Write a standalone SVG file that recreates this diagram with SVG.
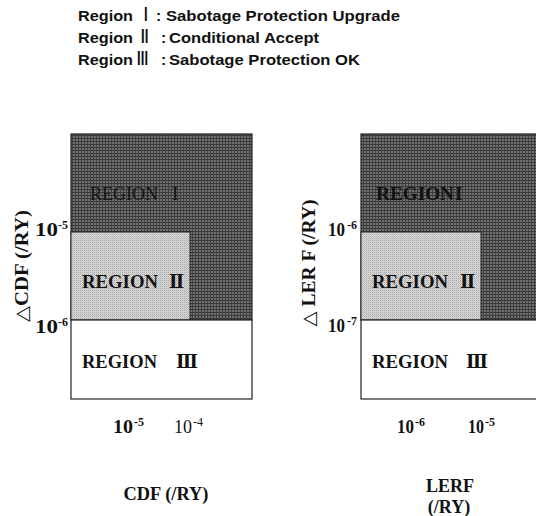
<svg xmlns="http://www.w3.org/2000/svg" width="536" height="516" viewBox="0 0 536 516">
<style>
.hd{font-family:"Liberation Sans",Arial,"Noto Sans CJK JP",sans-serif;font-weight:bold;font-size:15.5px;fill:#111}
.hn{font-family:"DejaVu Sans","Noto Sans CJK JP",sans-serif;font-weight:normal;font-size:19px}
.rg{font-family:"Liberation Serif","Times New Roman","Noto Sans CJK JP",serif;font-weight:bold;font-size:19px;fill:#111}
.rn{font-family:"DejaVu Serif","Liberation Serif","Noto Sans CJK JP",serif;font-weight:bold;font-size:18px;fill:#111}
.tk{font-family:"Liberation Serif","Times New Roman",serif;font-weight:bold;font-size:18px;fill:#111}
.sp{font-family:"Liberation Serif","Times New Roman",serif;font-weight:bold;font-size:12px;fill:#111}
.ax{font-family:"Liberation Serif","Times New Roman","DejaVu Sans",serif;font-weight:bold;font-size:18px;fill:#111}
.dark{fill:url(#pd);stroke:#222;stroke-width:1.2}
.light{fill:url(#pl);stroke:#222;stroke-width:1}
.white{fill:#fff;stroke:#222;stroke-width:1.2}
</style>
<defs>
<pattern id="pd" width="3" height="3" patternUnits="userSpaceOnUse">
<rect width="3" height="3" fill="#707070"/>
<rect width="3" height="1" fill="#363636"/>
<rect width="1" height="3" fill="#404040"/>
</pattern>
<pattern id="pl" width="2" height="2" patternUnits="userSpaceOnUse">
<rect width="2" height="2" fill="#dcdcdc"/>
<rect width="1" height="1" fill="#a8a8a8"/>
<rect x="1" y="1" width="1" height="1" fill="#c0c0c0"/>
</pattern>
</defs>

<g id="legend">
<text class="hd" y="21"><tspan x="78" textLength="55" lengthAdjust="spacingAndGlyphs">Region</tspan><tspan x="143" class="hn">Ⅰ</tspan><tspan x="156">:</tspan><tspan x="166" textLength="234" lengthAdjust="spacingAndGlyphs">Sabotage Protection Upgrade</tspan></text>
<text class="hd" y="43"><tspan x="78" textLength="55" lengthAdjust="spacingAndGlyphs">Region</tspan><tspan x="140" class="hn">Ⅱ</tspan><tspan x="161">:</tspan><tspan x="169" textLength="150" lengthAdjust="spacingAndGlyphs">Conditional Accept</tspan></text>
<text class="hd" y="65"><tspan x="78" textLength="55" lengthAdjust="spacingAndGlyphs">Region</tspan><tspan x="136" class="hn">Ⅲ</tspan><tspan x="161">:</tspan><tspan x="169" textLength="191" lengthAdjust="spacingAndGlyphs">Sabotage Protection OK</tspan></text>
</g>

<g id="chart-cdf">
<rect id="cdf-region1" class="dark" x="71" y="134" width="181" height="186"/>
<rect id="cdf-region2" class="light" x="71" y="232" width="119" height="88"/>
<rect id="cdf-region3" class="white" x="71" y="320" width="181" height="79"/>
<text class="rg" y="200" style="font-weight:normal;fill:#151515"><tspan x="90" textLength="68" lengthAdjust="spacingAndGlyphs">REGION</tspan><tspan x="172">I</tspan></text>
<text class="rg" y="288"><tspan x="82" textLength="76" lengthAdjust="spacingAndGlyphs">REGION</tspan><tspan x="169" class="rn">Ⅱ</tspan></text>
<text class="rg" y="368"><tspan x="82" textLength="75" lengthAdjust="spacingAndGlyphs">REGION</tspan><tspan x="176" class="rn">Ⅲ</tspan></text>
<text class="tk" x="35" y="236" textLength="23" lengthAdjust="spacingAndGlyphs">10</text><text class="sp" x="58" y="229">-5</text>
<text class="tk" x="35" y="333" textLength="23" lengthAdjust="spacingAndGlyphs">10</text><text class="sp" x="58" y="326">-6</text>
<text class="ax" transform="translate(28,266) rotate(-90)" text-anchor="middle" textLength="112" lengthAdjust="spacingAndGlyphs">△CDF (/RY)</text>
<text class="tk" x="113" y="433" textLength="20" lengthAdjust="spacingAndGlyphs">10</text><text class="sp" x="134" y="426">-5</text>
<text class="tk" x="174" y="433" style="font-weight:normal" textLength="18" lengthAdjust="spacingAndGlyphs">10</text><text class="sp" x="193" y="426" style="font-weight:normal">-4</text>
<text class="ax" x="166" y="500" text-anchor="middle" textLength="85" lengthAdjust="spacingAndGlyphs">CDF (/RY)</text>
</g>

<g id="chart-lerf">
<rect id="lerf-region1" class="dark" x="361" y="134" width="180" height="186"/>
<rect id="lerf-region2" class="light" x="361" y="232" width="120" height="88"/>
<rect id="lerf-region3" class="white" x="361" y="320" width="180" height="79"/>
<text class="rg" y="200"><tspan x="376" textLength="78" lengthAdjust="spacingAndGlyphs">REGION</tspan><tspan x="455">I</tspan></text>
<text class="rg" y="288"><tspan x="372" textLength="76" lengthAdjust="spacingAndGlyphs">REGION</tspan><tspan x="460" class="rn">Ⅱ</tspan></text>
<text class="rg" y="368"><tspan x="372" textLength="76" lengthAdjust="spacingAndGlyphs">REGION</tspan><tspan x="466" class="rn">Ⅲ</tspan></text>
<text class="tk" x="328" y="236" textLength="17" lengthAdjust="spacingAndGlyphs">10</text><text class="sp" x="347" y="229">-6</text>
<text class="tk" x="328" y="332" textLength="17" lengthAdjust="spacingAndGlyphs">10</text><text class="sp" x="347" y="325">-7</text>
<text class="ax" transform="translate(315,263) rotate(-90)" text-anchor="middle" textLength="127" lengthAdjust="spacingAndGlyphs">△ LER F (/RY)</text>
<text class="tk" x="397" y="433" textLength="17" lengthAdjust="spacingAndGlyphs">10</text><text class="sp" x="415" y="426">-6</text>
<text class="tk" x="468" y="433" textLength="16" lengthAdjust="spacingAndGlyphs">10</text><text class="sp" x="485" y="426">-5</text>
<text class="ax" x="450" y="492" text-anchor="middle">LERF</text>
<text class="ax" x="449" y="513" text-anchor="middle">(/RY)</text>
</g>
</svg>
